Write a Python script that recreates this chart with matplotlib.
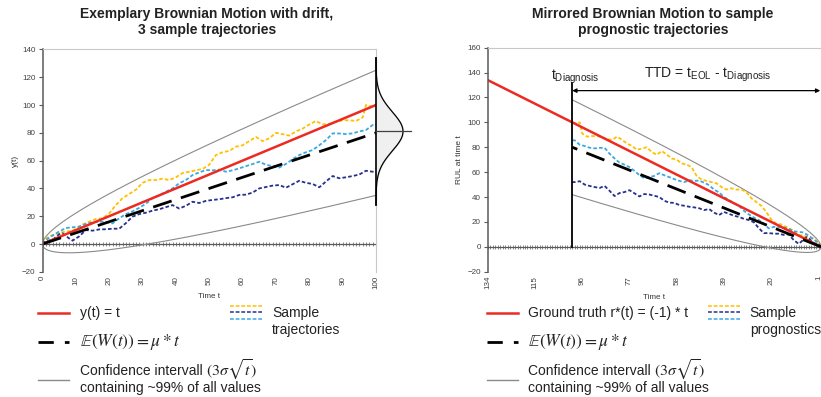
import numpy as np
import matplotlib
matplotlib.use('Agg')
import matplotlib.pyplot as plt
from matplotlib.lines import Line2D

plt.rcParams['font.family'] = ['Liberation Sans', 'DejaVu Sans']
plt.rcParams['mathtext.fontset'] = 'custom'
plt.rcParams['mathtext.rm'] = 'Liberation Sans'
plt.rcParams['mathtext.it'] = 'Liberation Sans:italic'
plt.rcParams['mathtext.bf'] = 'Liberation Sans:bold'

# process parameters: drift mu, volatility sigma (left / mirrored plot)
mu = 0.8
sigma_left = 1.5
sigma_right = 1.27
t_end = 100
t_start_right = 134
t_diag = 100

# three sample trajectories W(t)
yellow_t = [0, 1, 3, 5, 7, 9, 12, 14, 16, 18, 20, 22, 24, 26, 28, 30, 32, 34, 36, 38, 40,
            42, 44, 46, 48, 50, 52, 54, 56, 58, 60, 62, 64, 66, 68, 70, 72, 74, 76, 78, 80,
            82, 84, 86, 88, 90, 92, 94, 96, 97, 98, 100]
yellow_v = [0, 4, 6.5, 8, 9, 9.5, 14, 16, 18, 18.5, 22, 28, 33, 36, 39, 44, 46, 46, 47, 46, 48,
            51, 52, 53, 54, 57, 64, 66, 67, 70, 71, 74, 77, 74, 76, 80, 79, 78, 81, 83, 86,
            88.5, 86, 86.5, 88, 89, 89, 88.5, 91, 100, 99, 100]

lblue_t = [0, 1, 3, 5, 7, 9, 11, 13, 15, 17, 19, 21, 23, 25, 27, 29, 31, 33, 35, 37, 39,
           41, 43, 45, 47, 49, 51, 53, 55, 57, 59, 61, 63, 65, 67, 69, 71, 73, 75, 77, 79,
           81, 83, 85, 87, 89, 91, 93, 95, 97, 99, 100]
lblue_v = [0, 3, 6, 9, 11.5, 12, 12.5, 14.5, 15.5, 16, 16, 14.8, 18.5, 21.5, 23.5, 26, 29, 33, 35, 37.6, 40,
           43.7, 46, 49.6, 51.5, 53.2, 53, 53.5, 52, 53, 54.4, 56, 57.5, 59.2, 57, 56, 55, 57.6, 61, 64, 66,
           67.6, 71, 74.8, 79.6, 79.5, 79.1, 79.6, 81, 82, 85.6, 85.5]

dblue_t = [0, 1, 3, 5, 6, 8, 9, 11, 13, 15, 17, 19, 21, 23, 25, 27, 29, 31, 33, 35, 37, 39,
           41, 43, 45, 47, 49, 51, 53, 55, 57, 59, 61, 63, 65, 67, 69, 71, 73, 75, 77, 79,
           81, 83, 85, 87, 89, 91, 93, 95, 97, 99, 100]
dblue_v = [0, 2, 3, 7, 7.7, 4, 2.4, 5.5, 10, 9.6, 10.5, 10.6, 11, 11, 15, 19.7, 21.5, 22.5, 24, 25, 26.5, 28,
           25.5, 27.5, 30.4, 29.5, 31, 31.7, 32.2, 33, 33.6, 35.3, 35.5, 37, 40, 41, 42, 42.4, 40.5, 43, 45.5, 44,
           43.2, 40.8, 45, 48.9, 47.3, 48, 48.9, 50, 52.7, 52, 52]

left_xticks = list(range(0, 101, 10))
right_xticks = [134, 115, 96, 77, 58, 39, 20, 1]
left_yticks = list(range(-20, 141, 20))
right_yticks = list(range(-20, 161, 20))

RED = '#ec2a22'
YELLOW = '#ffc000'
LBLUE = '#3aa8e2'
DBLUE = '#26318c'
CI_GRAY = '#8a8a8a'
AX_GRAY = '#5a5a5a'
LIGHT = '#c8c8c8'

W, H = 821, 397


def fx(x):
    return x / W


def fy(y):
    return 1 - y / H


fig = plt.figure(figsize=(W / 100, H / 100), dpi=100)
ax1 = fig.add_axes([fx(42.5), fy(271.8), 333.5 / W, 222.4 / H])
ax2 = fig.add_axes([fx(487.7), fy(271.7), (W - 487.7) / W, 224.0 / H])

sample_style = dict(lw=1.3, dashes=(2.0, 1.2))


def style_axes(ax, xticks, yticks, zero_frac, n_minor):
    ax.set_xticks(xticks)
    ax.set_yticks(yticks)
    ax.tick_params(axis='y', length=3, width=0.8, color=AX_GRAY, labelsize=5.8,
                   labelcolor='#404040', pad=2)
    ax.tick_params(axis='x', length=0, labelsize=5.8, labelcolor='#404040',
                   labelrotation=90, pad=3)
    ax.spines['left'].set_color(AX_GRAY)
    ax.spines['left'].set_linewidth(1.1)
    ax.spines['top'].set_color(LIGHT)
    ax.spines['top'].set_linewidth(0.8)
    ax.spines['right'].set_color(LIGHT)
    ax.spines['right'].set_linewidth(0.8)
    ax.spines['bottom'].set_visible(False)
    # zero line with a small tick per time step
    sec = ax.secondary_xaxis(zero_frac)
    sec.set_xticks(n_minor)
    sec.tick_params(direction='inout', length=3.0, width=0.5, color=AX_GRAY,
                    labelbottom=False, labeltop=False)
    for s in sec.spines.values():
        s.set_color(AX_GRAY)
        s.set_linewidth(0.9)
    ax.set_xlabel('Time t', fontsize=5.8, color='#333333', labelpad=3)


# ---- left: Brownian motion with drift ----
t = np.linspace(0, t_end, 401)
ax1.plot(t, mu * t + 3 * sigma_left * np.sqrt(t), color=CI_GRAY, lw=0.8)
ax1.plot(t, mu * t - 3 * sigma_left * np.sqrt(t), color=CI_GRAY, lw=0.8)
ax1.plot(yellow_t, yellow_v, color=YELLOW, **sample_style)
ax1.plot(lblue_t, lblue_v, color=LBLUE, **sample_style)
ax1.plot(dblue_t, dblue_v, color=DBLUE, **sample_style)
ax1.plot(t, t, color=RED, lw=1.8)
ax1.plot(t, mu * t, color='black', lw=2.0, dashes=(7, 3.5))

# distribution of W(100) drawn sideways at the right edge
v = np.linspace(28, 134, 300)
gx = t_end + 8.1 * np.exp(-(v - 81) ** 2 / (2 * 14 ** 2))
ax1.fill_betweenx(v, t_end, gx, color='#f0f0f0', clip_on=False, zorder=3)
ax1.plot(gx, v, color='black', lw=0.9, clip_on=False, zorder=4)
ax1.plot([t_end, t_end], [28, 134], color='black', lw=1.2, clip_on=False, zorder=4)
ax1.plot([t_end, 110.5], [81, 81], color='#404040', lw=0.9, clip_on=False, zorder=4)

ax1.set_xlim(0, t_end)
ax1.set_ylim(-20, 140)
style_axes(ax1, left_xticks, left_yticks, 20 / 160, list(range(0, 101)))
ax1.set_ylabel('y(t)', fontsize=6, color='#333333', labelpad=2)

# ---- right: mirrored process for prognostics ----
x = np.linspace(0, t_diag, 401)
xr = np.linspace(0, t_start_right, 201)
ax2.plot(x, mu * x + 3 * sigma_right * np.sqrt(x), color=CI_GRAY, lw=0.8)
ax2.plot(x, mu * x - 3 * sigma_right * np.sqrt(x), color=CI_GRAY, lw=0.8)
ax2.plot(yellow_t, yellow_v, color=YELLOW, **sample_style)
ax2.plot(lblue_t, lblue_v, color=LBLUE, **sample_style)
ax2.plot(dblue_t, dblue_v, color=DBLUE, **sample_style)
ax2.plot(xr, xr, color=RED, lw=1.8)
ax2.plot(x, mu * x, color='black', lw=2.0, dashes=(7, 3.5))
ax2.plot([t_diag, t_diag], [0, 131.5], color='black', lw=1.3)
ax2.annotate('', xy=(0.3, 125.5), xytext=(t_diag, 125.5), annotation_clip=False,
             arrowprops=dict(arrowstyle='<|-|>', color='black', lw=0.9,
                             mutation_scale=6, shrinkA=0, shrinkB=0))
ax2.text(t_diag - 1, 134, r't$_{\mathrm{Diagnosis}}$', fontsize=10, ha='center',
         va='baseline', color='#222222')
ax2.text(45.4, 135.6, r'TTD = t$_{\mathrm{EOL}}$ - t$_{\mathrm{Diagnosis}}$', fontsize=10,
         ha='center', va='baseline', color='#222222')

ax2.set_xlim(t_start_right, 0)
ax2.set_ylim(-20, 160)
style_axes(ax2, right_xticks, right_yticks, 20 / 180, list(range(0, 135)))
ax2.spines['right'].set_visible(False)
ax2.set_ylabel('RUL at time t', fontsize=6, color='#333333', labelpad=3)

# ---- titles ----
fig.text(fx(207), fy(22), 'Exemplary Brownian Motion with drift,\n3 sample trajectories',
         fontsize=10, fontweight='bold', ha='center', va='center', linespacing=1.25,
         color='#222222')
fig.text(fx(653), fy(22), 'Mirrored Brownian Motion to sample\nprognostic trajectories',
         fontsize=10, fontweight='bold', ha='center', va='center', linespacing=1.25,
         color='#222222')


# ---- legends below the plots ----
def fline(x0, x1, y, **kw):
    fig.add_artist(Line2D([fx(x0), fx(x1)], [fy(y), fy(y)], transform=fig.transFigure, **kw))


def ftext(xp, yp, s, size=10, **kw):
    fig.text(fx(xp), fy(yp), s, fontsize=size, ha='left', va='center', color='#222222', **kw)


def legend_block(x0, x_txt, truth_label, xs, sample_label):
    fline(x0, x0 + 31, 312.7, color=RED, lw=1.8)
    ftext(x_txt, 312.7, truth_label)
    fline(x0, x0 + 31, 341.7, color='black', lw=2.0, dashes=(5.5, 4))
    ftext(x_txt, 342, r'$\mathbb{E}\left(W(t)\right) = \mu * t$', size=12.5,
          math_fontfamily='stix')
    fline(x0, x0 + 31, 380, color=CI_GRAY, lw=1.0)
    ftext(x_txt, 371, 'Confidence intervall', size=10)
    ftext(x_txt + 126, 370, r'$(3\sigma\sqrt{t})$', size=11.5, math_fontfamily='stix')
    ftext(x_txt, 388, 'containing ~99% of all values')
    for yy, c in zip([305.5, 312, 318.5], [YELLOW, DBLUE, LBLUE]):
        fline(xs, xs + 32, yy, color=c, lw=1.1, dashes=(2.5, 1.2))
    ftext(xs + 42, 313, 'Sample')
    ftext(xs + 42, 330, sample_label)


legend_block(38, 80, 'y(t) = t', 230, 'trajectories')
legend_block(486.7, 528, 'Ground truth r*(t) = (-1) * t', 707.7, 'prognostics')

fig.savefig('out.png', dpi=100)
